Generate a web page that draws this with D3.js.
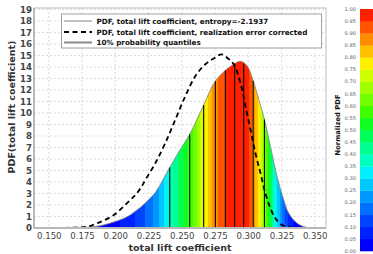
<!DOCTYPE html>
<html><head><meta charset="utf-8">
<script src="https://cdn.jsdelivr.net/npm/d3@7"></script>
<style>
html,body{margin:0;padding:0;background:#fff;}
svg{display:block;font-family:"DejaVu Sans",sans-serif;}
</style></head>
<body><svg id="c" width="373" height="254"></svg>
<script>
// ---- data ----
const pdfX = [0.150,0.170,0.180,0.188,0.194,0.201,0.2075,0.2115,0.2152,0.219,0.2228,0.2302,0.2402,0.2477,0.256,0.2665,0.2748,0.2823,0.2891,0.2941,0.2992,0.3034,0.3079,0.3122,0.3167,0.3217,0.3267,0.3305,0.3368,0.343,0.350];
const pdfY = [0,0.02,0.07,0.18,0.35,0.6,0.9,1.15,1.47,1.8,2.2,3.1,5.1,6.6,8.15,10.7,12.7,13.65,14.24,14.5,14.1,12.93,11.18,9.43,7.1,4.48,2.45,1.28,0.41,0.08,0];
const corrX = [0.155,0.170,0.1789,0.1864,0.1989,0.2114,0.2152,0.219,0.2227,0.2302,0.2377,0.2452,0.2527,0.2603,0.2678,0.2753,0.2800,0.2841,0.2891,0.2941,0.2979,0.3017,0.3054,0.3092,0.3129,0.3167,0.3204,0.3254,0.3317,0.340];
const corrY = [0,0.04,0.11,0.41,1.13,2.45,2.88,3.45,4.19,5.65,7.4,9.43,11.47,13.21,14.24,14.82,15.1,14.8,14.24,12.64,10.6,8.56,6.52,4.78,3.03,1.72,0.85,0.26,0.06,0];
const quantiles = [0.2410,0.2560,0.2665,0.2753,0.2828,0.2898,0.2966,0.3037,0.3122];
const xTicks = [0.150,0.175,0.200,0.225,0.250,0.275,0.300,0.325,0.350];
const yTicks = d3.range(0,20);
const cbTicks = d3.range(0,21).map(i=>i*0.05);
const legendLabels = ["PDF, total lift coefficient, entropy=-2.1937","PDF, total lift coefficient, realization error corrected","10% probability quantiles"];
const palette = ["#0000ff","#0022ff","#0044ff","#0070ff","#0098ff","#00c8ff","#00f0ff","#00ffc0","#00ff90","#00ff58","#10ff20","#40ff00","#70ff00","#a0ff00","#d0ff00","#fff000","#ffc000","#ff8c00","#ff5500","#ff2000"];

// ---- scales ----
const svg = d3.select("#c");
const L=34, R=326, T=8, B=228;
const x = d3.scaleLinear().domain([0.1389,0.3585]).range([L,R]);
const y = d3.scaleLinear().domain([0,19.13]).range([B,T]);

function interp(xs, ys, v){
  if(v<=xs[0]) return ys[0];
  if(v>=xs[xs.length-1]) return ys[ys.length-1];
  const i = d3.bisectRight(xs, v)-1;
  const t = (v-xs[i])/(xs[i+1]-xs[i]);
  return ys[i]+t*(ys[i+1]-ys[i]);
}
const pdfMax = d3.max(pdfY);
const colorOf = v => palette[Math.min(19, Math.floor(v*20))];

// grid
const g = svg.append("g");
g.selectAll(".gy").data(yTicks).join("line")
  .attr("x1",L).attr("x2",R).attr("y1",d=>y(d)).attr("y2",d=>y(d))
  .attr("stroke","#d4d4d4").attr("stroke-width",0.8).attr("stroke-dasharray","2,2");
g.selectAll(".gx").data(xTicks).join("line")
  .attr("y1",T).attr("y2",B).attr("x1",d=>x(d)).attr("x2",d=>x(d))
  .attr("stroke","#d4d4d4").attr("stroke-width",0.8).attr("stroke-dasharray","2,2");

// gradient fill
const defs = svg.append("defs");
const grad = defs.append("linearGradient").attr("id","pdfgrad")
  .attr("gradientUnits","userSpaceOnUse")
  .attr("x1",x(pdfX[0])).attr("x2",x(pdfX[pdfX.length-1])).attr("y1",0).attr("y2",0);
const N=400;
for(let i=0;i<N;i++){
  const v0 = pdfX[0]+(pdfX[pdfX.length-1]-pdfX[0])*i/N;
  const c = colorOf(interp(pdfX,pdfY,v0+ (pdfX[pdfX.length-1]-pdfX[0])/(2*N))/pdfMax);
  grad.append("stop").attr("offset",i/N).attr("stop-color",c);
  grad.append("stop").attr("offset",(i+1)/N).attr("stop-color",c);
}
const pts = pdfX.map((v,i)=>[v,pdfY[i]]);
const curve = d3.curveCatmullRom.alpha(0.5);
const area = d3.area().x(d=>x(d[0])).y0(y(0)).y1(d=>y(Math.max(0,d[1]))).curve(curve);
svg.append("path").datum(pts).attr("d",area).attr("fill","url(#pdfgrad)");
const line = d3.line().x(d=>x(d[0])).y(d=>y(d[1])).curve(curve);
svg.append("path").datum(pts).attr("d",line).attr("fill","none").attr("stroke","#888").attr("stroke-width",0.9);

// quantile lines
svg.selectAll(".q").data(quantiles).join("line")
  .attr("x1",d=>x(d)).attr("x2",d=>x(d)).attr("y1",y(0)).attr("y2",d=>y(interp(pdfX,pdfY,d)))
  .attr("stroke","#000").attr("stroke-width",1.1);

// corrected dashed
const cpts = corrX.map((v,i)=>[v,corrY[i]]);
svg.append("path").datum(cpts).attr("d",line).attr("fill","none")
  .attr("stroke","#000").attr("stroke-width",1.8).attr("stroke-dasharray","5,3.5");

// frame
svg.append("rect").attr("x",L).attr("y",T).attr("width",R-L).attr("height",B-T)
  .attr("fill","none").attr("stroke","#aaa").attr("stroke-width",0.8);
svg.append("line").attr("x1",L).attr("x2",R).attr("y1",B).attr("y2",B).attr("stroke","#b8b8b8").attr("stroke-width",2);
svg.append("line").attr("x1",L).attr("x2",L).attr("y1",T).attr("y2",B).attr("stroke","#999").attr("stroke-width",1);

// axes
const ya = svg.append("g").attr("transform",`translate(${L},0)`)
  .call(d3.axisLeft(y).tickValues(yTicks).tickSize(0).tickPadding(2).tickFormat(d3.format("d")));
ya.select(".domain").remove();
ya.selectAll("text").attr("font-size","8.6px").attr("font-weight","bold").attr("fill","#444").attr("font-family","DejaVu Sans");
const xa = svg.append("g").attr("transform",`translate(0,${B})`)
  .call(d3.axisBottom(x).tickValues(xTicks).tickSize(0).tickPadding(5).tickFormat(d3.format(".3f")));
xa.select(".domain").remove();
xa.selectAll("text").attr("font-size","8.6px").attr("fill","#444").attr("font-family","DejaVu Sans");

svg.append("text").attr("x",(L+R)/2).attr("y",251).attr("text-anchor","middle")
  .attr("font-size","9.5px").attr("font-weight","bold").attr("fill","#333").text("total lift coefficient");
svg.append("text").attr("transform","translate(15,107) rotate(-90)").attr("text-anchor","middle")
  .attr("font-size","9.5px").attr("font-weight","bold").attr("fill","#333").text("PDF(total lift coefficient)");

// legend
const lg = svg.append("g");
lg.append("rect").attr("x",61.5).attr("y",14).attr("width",260).attr("height",34)
  .attr("fill","#fff").attr("stroke","#888").attr("stroke-width",0.8);
const rowsY=[21,32,42.5];
const lstyles=[{c:"#aaa",w:1.5,d:null},{c:"#000",w:1.8,d:"5,3.5"},{c:"#888",w:2,d:null}];
legendLabels.forEach((t,i)=>{
  const l = lg.append("line").attr("x1",64).attr("x2",92).attr("y1",rowsY[i]).attr("y2",rowsY[i])
    .attr("stroke",lstyles[i].c).attr("stroke-width",lstyles[i].w);
  if(lstyles[i].d) l.attr("stroke-dasharray",lstyles[i].d);
  lg.append("text").attr("x",96.5).attr("y",rowsY[i]+2.6).attr("font-size","7.2px").attr("font-weight","bold").attr("fill","#111").text(t);
});

// colorbar
const cy = d3.scaleLinear().domain([0,1]).range([251,9]);
svg.append("g").selectAll("rect").data(palette).join("rect")
  .attr("x",360).attr("width",14).attr("y",(d,i)=>cy((i+1)*0.05)).attr("height",(d,i)=>cy(i*0.05)-cy((i+1)*0.05)+0.3)
  .attr("fill",d=>d);
svg.append("g").selectAll("text").data(cbTicks).join("text")
  .attr("x",356).attr("y",d=>cy(d)+1.8).attr("text-anchor","end").attr("font-size","5.2px").attr("fill","#666")
  .text(d=>d3.format(".2f")(d));
svg.append("text").attr("transform","translate(340,125) rotate(-90)").attr("text-anchor","middle")
  .attr("font-size","6.8px").attr("font-weight","bold").attr("fill","#111").text("Normalized PDF");
</script></body></html>
